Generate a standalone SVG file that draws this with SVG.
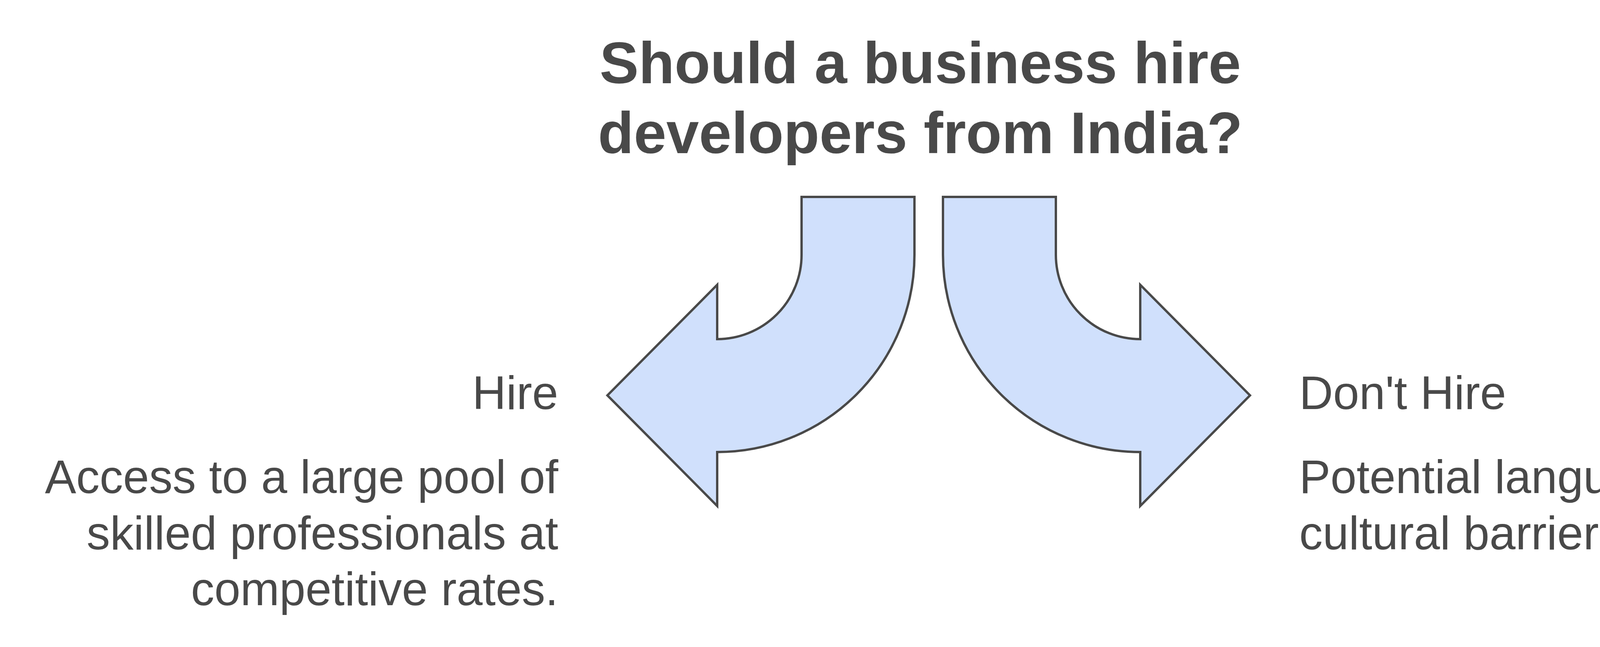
<svg xmlns="http://www.w3.org/2000/svg" width="4682" height="1656" viewBox="0 0 4682 1656">
<style>
.t{font-family:"Liberation Sans",Arial,sans-serif;fill:#494949}
.title{font-size:150px;font-weight:bold;text-anchor:middle}
.lbl{font-size:120px}
.end{text-anchor:end}
.arrow{fill:#D0E0FC;stroke:#494949;stroke-width:6;stroke-linejoin:miter}
</style>
<rect width="4682" height="1656" fill="#ffffff"/>
<g id="title">
<text class="t title" x="2356" y="212.5">Should a business hire</text>
<text class="t title" x="2356" y="392">developers from India?</text>
</g>
<g id="connectors">
<path class="arrow" d="M 2052 504 L 2341 504 L 2341 652 A 505 505 0 0 1 1836 1157 L 1836 1295 L 1555 1012 L 1836 729 L 1836 868 A 216 216 0 0 0 2052 652 Z"/>
<path class="arrow" d="M 2703 504 L 2414 504 L 2414 652 A 505 505 0 0 0 2919 1157 L 2919 1295 L 3200 1012 L 2919 729 L 2919 868 A 216 216 0 0 1 2703 652 Z"/>
</g>
<g id="hire">
<text class="t lbl end" x="1429" y="1047">Hire</text>
<text class="t lbl end" x="1429" y="1262">Access to a large pool of</text>
<text class="t lbl end" x="1429" y="1406">skilled professionals at</text>
<text class="t lbl end" x="1429" y="1549">competitive rates.</text>
</g>
<g id="dont-hire">
<text class="t lbl" x="3326" y="1047">Don't Hire</text>
<text class="t lbl" x="3326" y="1262">Potential language and</text>
<text class="t lbl" x="3326" y="1406">cultural barriers.</text>
</g>
</svg>
